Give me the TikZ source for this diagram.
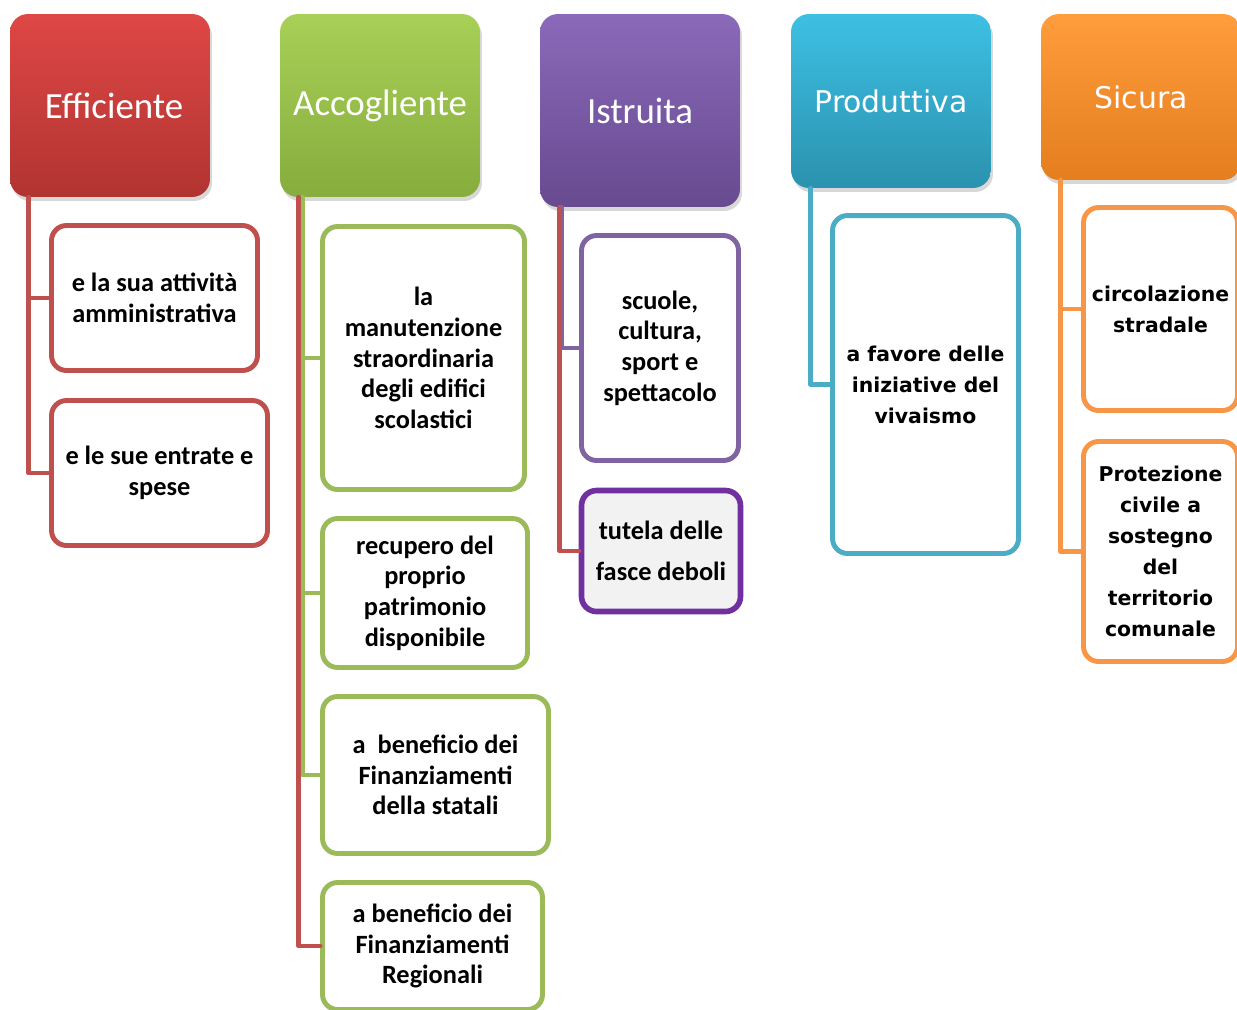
\documentclass[tikz,border=0pt]{standalone}
\usepackage{fontspec}
\setmainfont{Carlito}
\newfontfamily\verd{DejaVu Sans}
\usetikzlibrary{shadows}
\definecolor{rosso}{HTML}{C0504D}
\definecolor{rossoA}{HTML}{DE4745}
\definecolor{rossoB}{HTML}{B13431}
\definecolor{verde}{HTML}{9BBB59}
\definecolor{verdeA}{HTML}{A8D057}
\definecolor{verdeB}{HTML}{86AD3D}
\definecolor{viola}{HTML}{8064A2}
\definecolor{violaA}{HTML}{8B69BA}
\definecolor{violaB}{HTML}{674A8F}
\definecolor{violaC}{HTML}{7030A0}
\definecolor{blu}{HTML}{4BACC6}
\definecolor{bluA}{HTML}{3DC0E3}
\definecolor{bluB}{HTML}{2B92AF}
\definecolor{aranc}{HTML}{F79646}
\definecolor{arancA}{HTML}{FF9C3C}
\definecolor{arancB}{HTML}{E47E1F}
\begin{document}
\begin{tikzpicture}[line cap=round,line join=round,x=0.02cm,y=-0.02cm,
	tieude/.style={rounded corners=0.36cm,text=white,inner sep=0pt,
		minimum width=4cm,font=\fontsize{21}{25}\selectfont,
		drop shadow={opacity=0.3,shadow xshift=0.04cm,shadow yshift=-0.08cm}},
	o/.style={draw=#1,line width=2.8pt,rounded corners=0.3cm,fill=white,
		align=center,inner sep=0pt,font=\bfseries\fontsize{15}{17.5}\selectfont},
	noi/.style={draw=#1,line width=2.8pt}]
	\path[use as bounding box,fill=white] (0,0) rectangle (1237,1009); %khung
	% Ve cac o tieu de
	\node[tieude,top color=rossoA,bottom color=rossoB,minimum height=3.66cm] (E) at (110,105.5) {\hspace*{.16cm}Efficiente};
	\node[tieude,top color=verdeA,bottom color=verdeB,minimum height=3.66cm] (A) at (380,105.5) {Accogliente};
	\node[tieude,top color=violaA,bottom color=violaB,minimum height=3.86cm] (I) at (640,110.5) {Istruita};
	\node[tieude,top color=bluA,bottom color=bluB,minimum height=3.48cm,
		font=\verd\fontsize{17}{20}\selectfont] (P) at (891,101) {Produttiva};
	\node[tieude,top color=arancA,bottom color=arancB,minimum height=3.32cm,
		font=\verd\fontsize{17}{20}\selectfont] (S) at (1141,97) {Sicura};
	% Cot Efficiente
	\node[o=rosso,minimum width=4.12cm,minimum height=2.9cm] (e1) at (154.5,298) {e la sua attività\\amministrativa};
	\node[o=rosso,minimum width=4.32cm,minimum height=2.9cm] (e2) at (159.5,473) {e le sue entrate e\\spese};
	\draw[noi=rosso] ([xshift=.38cm]E.south west) |- (e1.west);
	\draw[noi=rosso] ([xshift=.38cm]E.south west) |- (e2.west);
	% Cot Accogliente
	\node[o=verde,minimum width=4.04cm,minimum height=5.26cm] (a1) at (423.5,358) {la\\manutenzione\\straordinaria\\degli edifici\\scolastici};
	\node[o=verde,minimum width=4.1cm,minimum height=2.98cm] (a2) at (425,593) {recupero del\\proprio\\patrimonio\\disponibile};
	\node[o=verde,minimum width=4.52cm,minimum height=3.14cm] (a3) at (435.5,775) {a~ beneficio dei\\Finanziamenti\\della statali};
	\node[o=verde,minimum width=4.4cm,minimum height=2.54cm] (a4) at (432.5,946) {a beneficio dei\\Finanziamenti\\Regionali};
	\foreach \c in {a1,a2,a3}
	\draw[noi=verde] ([xshift=.46cm]A.south west) |- (\c.west);
	\draw[noi=rosso] ([xshift=.38cm]A.south west) |- (a4.west);
	% Cot Istruita
	\node[o=viola,minimum width=3.14cm,minimum height=4.5cm] (i1) at (660,348) {scuole,\\cultura,\\sport e\\spettacolo};
	\node[o=violaC,fill=black!5,line width=3.2pt,minimum width=3.18cm,minimum height=2.42cm] (i2) at (661,551) {tutela delle\\[6pt]fasce deboli};
	\draw[noi=viola] ([xshift=.44cm]I.south west) |- (i1.west);
	\draw[noi=rosso] ([xshift=.4cm]I.south west) |- (i2.west);
	% Cot Produttiva
	\node[o=blu,minimum width=3.72cm,minimum height=6.76cm,
		font=\verd\bfseries\fontsize{11.6}{17.6}\selectfont] (p1) at (925.5,384.5) {a favore delle\\iniziative del\\vivaismo};
	\draw[noi=blu] ([xshift=.4cm]P.south west) |- (p1.west);
	% Cot Sicura
	\node[o=aranc,minimum width=3.08cm,minimum height=4.06cm,
		font=\verd\bfseries\fontsize{11.6}{17.6}\selectfont] (s1) at (1160.5,309) {circolazione\\stradale};
	\node[o=aranc,minimum width=3.08cm,minimum height=4.4cm,
		font=\verd\bfseries\fontsize{11.6}{17.6}\selectfont] (s2) at (1160.5,551.5) {Protezione\\civile a\\sostegno\\del\\territorio\\comunale};
	\foreach \c in {s1,s2}
	\draw[noi=aranc] ([xshift=.4cm]S.south west) |- (\c.west);
\end{tikzpicture}
\end{document}
